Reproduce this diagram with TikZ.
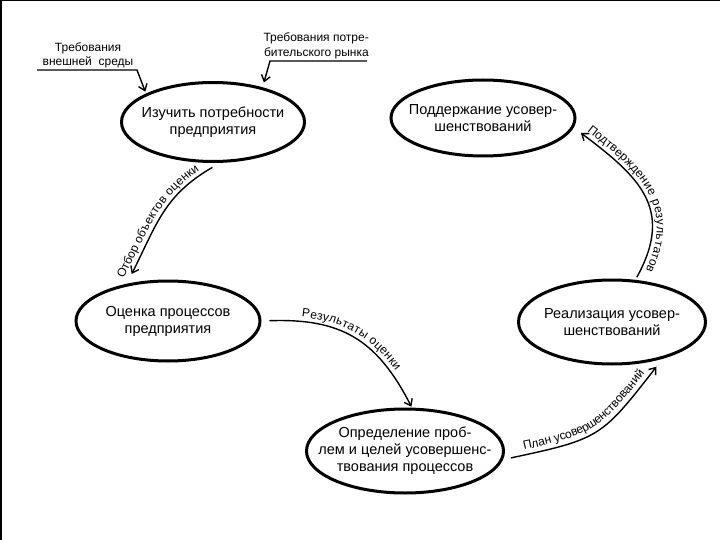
\documentclass[tikz,border=0pt]{standalone}
\usepackage{fontspec}
\setmainfont{Liberation Sans}
\usetikzlibrary{shapes.geometric,arrows.meta,decorations.text}
\newcommand\lblfont{\fontsize{12}{14}\selectfont}
\begin{document}
\begin{tikzpicture}[x=1pt,y=1pt,
  proc/.style={ellipse, draw, line width=3pt, inner sep=0pt},
  ptext/.style={align=center, font=\fontsize{14.5}{17}\selectfont},
  toptext/.style={align=center, font=\fontsize{12}{14}\selectfont, inner sep=0pt},
  conn/.style={line width=1.4pt},
  arr/.style={-{Straight Barb[length=6pt,width=9pt]}},
  rarr/.style={{Straight Barb[length=6pt,width=9pt]}-},
  lbl/.style args={#1/#2}{postaction={decorate, decoration={text along path, text={|\lblfont|#1}, text align={center, right indent=#2}, raise=5pt}}}]
\fill[white] (0,0) rectangle (720,-540);
\useasboundingbox (0,0) rectangle (720,-540);
\draw[line width=3pt] (0,-540) -- (0,0) -- (720,0);

\node[proc, minimum width=183pt, minimum height=79pt,
  label={[ptext]center:Изучить потребности\\предприятия}] (a) at (213,-122) {};
\node[proc, minimum width=184pt, minimum height=76pt,
  label={[ptext]center:Поддержание усовер-\\шенствований}] (b) at (483,-118) {};
\node[proc, minimum width=184pt, minimum height=80pt,
  label={[ptext]center:Оценка процессов\\предприятия}] (c) at (168,-321) {};
\node[proc, minimum width=197pt, minimum height=84pt,
  label={[ptext]center:Определение проб-\\лем и целей усовершенс-\\твования процессов}] (d) at (405,-451) {};
\node[proc, minimum width=187pt, minimum height=84pt,
  label={[ptext]center:Реализация усовер-\\шенствований}] (e) at (612,-322) {};

\node[toptext] (tl) at (88,-55) {Требования\\внешней~~среды};
\node[toptext, align=right, anchor=east, font=\fontsize{12}{15}\selectfont] (tr) at (369,-46) {Требования потре-\\бительского рынка};

\coordinate (l1) at (37,-70);
\coordinate (l2) at (137,-70);
\draw[conn, arr, shorten >=2pt] (l1) -- (l2) -- (a.157);
\coordinate (r1) at (367,-61);
\coordinate (r2) at (270,-61);
\draw[conn, arr, shorten >=5pt] (r1) -- (r2) -- (a.35);

\draw[conn, rarr, lbl={Отбор объектов оценки/18pt}, shorten <=11pt, shorten >=9pt]
  (c.138) to[out=63, in=210, looseness=1.1] (a.-80);
\draw[conn, arr, lbl={Результаты оценки/0pt}, shorten <=8pt, shorten >=1pt]
  (c.0) to[out=2, in=117, looseness=1.15] (d.81);
\draw[conn, arr, lbl={План усовершенствований/0pt}, shorten <=8pt, shorten >=10pt]
  (d.-5) to[out=12, in=-128, looseness=1.35] (e.-36);
\draw[conn, rarr, lbl={Подтверждение результатов/0pt}, shorten <=9pt, shorten >=3pt]
  (b.-6) to[out=-37, in=61, looseness=1.27] (e.61);
\end{tikzpicture}
\end{document}
